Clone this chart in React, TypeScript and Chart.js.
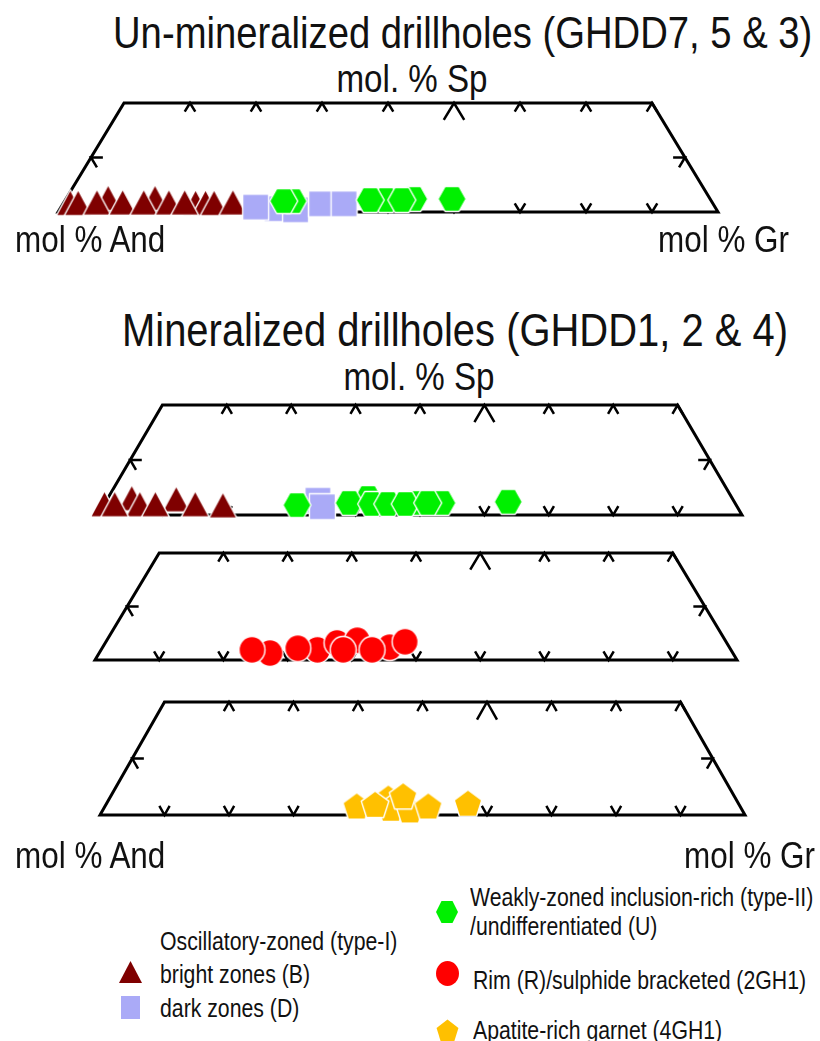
import React, { useEffect, useRef } from 'react';
import { Chart, registerables } from 'chart.js';

Chart.register(...registerables);

// ---------- Diagram constants (ternary And–Gr–Sp, truncated at Sp = 20 %) ----------
const SP_CUT = 20;
const TOP_TICKS = [20, 30, 40, 50, 60, 70, 80, 90];
const MAJOR_TICK = 60;
const BOTTOM_TICKS = [10, 20, 30, 40, 50, 60, 70, 80, 90];
const SIDE_TICK_SP = 10;

// ---------- Data: mol % Gr and mol % Sp of each analysis (drawing order) ----------
// Panel 1 – un-mineralized drillholes (GHDD7, 5 & 3)
const p1BrightGr = [1.0, 2.2, 6.3, 13.4, 20.0, 21.5, 22.8, 5.0, 8.9, 12.1, 15.9, 18.3, 25.6];
const p1BrightSp = [1.7, 1.7, 2.6, 2.6, 1.7, 1.7, 1.7, 1.8, 1.8, 1.8, 1.8, 1.8, 1.8];
const p1DarkGr = [32.9, 35.8, 39.2, 29.5, 42.6];
const p1DarkSp = [0.6, 0.4, 1.5, 0.9, 1.5];
const p1UGr = [34.6, 48.6, 52.7, 33.2, 46.2, 51.0, 58.5];
const p1USp = [2.0, 2.2, 2.4, 2.0, 2.2, 2.2, 2.4];

// Panel 2 – mineralized drillholes (GHDD1, 2 & 4), zoned garnet
const p2BrightGr = [0.0, 3.7, 5.5, 10.7, 1.6, 7.9, 14.1, 18.5];
const p2BrightSp = [2.0, 3.1, 2.0, 2.9, 2.0, 2.0, 2.0, 1.8];
const p2DarkGr = [32.8, 34.1];
const p2DarkSp = [2.7, 1.5];
const p2UGr = [30.0, 40.4, 48.1, 52.3, 37.9, 41.5, 44.0, 46.7, 50.1, 62.5];
const p2USp = [1.8, 3.1, 2.2, 2.2, 2.2, 2.0, 2.0, 2.0, 2.2, 2.4];

// Panel 3 – rims / sulphide bracketed (2GH1)
const p3RimGr = [26.6, 33.7, 36.1, 39.0, 44.7, 23.5, 30.5, 37.7, 42.2, 46.6];
const p3RimSp = [1.3, 1.9, 3.2, 3.7, 2.4, 1.9, 2.2, 1.9, 1.9, 3.4];

// Panel 4 – apatite-rich garnet (4GH1)
const p4ApGr = [43.2, 44.5, 47.6, 39.0, 41.7, 45.3, 50.1, 56.0];
const p4ApSp = [3.0, 1.2, 0.9, 1.6, 1.9, 3.4, 1.6, 2.1];

// ---------- Styles ----------
const FONT = "'Liberation Sans', Arial, Helvetica, sans-serif";
const SX = 0.85;
const C_BRIGHT = '#7f0000';
const C_DARK = '#aaaaf7';
const C_U = '#00f000';
const C_RIM = '#ff0000';
const C_AP = '#ffc000';

const PANELS = [
  { left: 58, right: 718, top: 103, bottom: 212 },
  { left: 98, right: 742, top: 405, bottom: 515 },
  { left: 95, right: 737, top: 553, bottom: 660 },
  { left: 100, right: 745, top: 702, bottom: 815 },
];
const PAD = 30;

type Shape = 'triangle' | 'square' | 'hexagon' | 'circle' | 'pentagon';

function shapePath(ctx: CanvasRenderingContext2D, shape: Shape, cx: number, cy: number, w: number, h: number) {
  const rx = w / 2;
  const ry = h / 2;
  ctx.beginPath();
  if (shape === 'triangle') {
    ctx.moveTo(cx, cy - ry);
    ctx.lineTo(cx + rx, cy + ry);
    ctx.lineTo(cx - rx, cy + ry);
  } else if (shape === 'square') {
    ctx.rect(cx - rx, cy - ry, w, h);
  } else if (shape === 'hexagon') {
    ctx.moveTo(cx - rx, cy);
    ctx.lineTo(cx - rx / 2, cy - ry);
    ctx.lineTo(cx + rx / 2, cy - ry);
    ctx.lineTo(cx + rx, cy);
    ctx.lineTo(cx + rx / 2, cy + ry);
    ctx.lineTo(cx - rx / 2, cy + ry);
  } else if (shape === 'circle') {
    ctx.ellipse(cx, cy, rx, ry, 0, 0, Math.PI * 2);
  } else {
    for (let k = 0; k < 5; k++) {
      const a = -Math.PI / 2 + (k * 2 * Math.PI) / 5;
      const px = cx + rx * Math.cos(a);
      const py = cy + ry * 1.05 * Math.sin(a) + ry * 0.1;
      if (k === 0) ctx.moveTo(px, py);
      else ctx.lineTo(px, py);
    }
  }
  ctx.closePath();
}

function makeMarker(shape: Shape, w: number, h: number, fill: string): HTMLCanvasElement {
  const c = document.createElement('canvas');
  c.width = Math.ceil(w + 5);
  c.height = Math.ceil(h + 5);
  const ctx = c.getContext('2d')!;
  shapePath(ctx, shape, c.width / 2, c.height / 2, w, h);
  ctx.fillStyle = fill;
  ctx.fill();
  ctx.lineWidth = 1.4;
  ctx.strokeStyle = '#ffffff';
  ctx.lineJoin = 'round';
  ctx.stroke();
  return c;
}

function lineDs(points: { x: number; y: number }[], width: number) {
  return {
    type: 'scatter' as const,
    data: points,
    showLine: true,
    borderColor: '#000',
    backgroundColor: '#000',
    borderWidth: width,
    pointRadius: 0,
    pointHoverRadius: 0,
    borderJoinStyle: 'miter' as const,
    borderCapStyle: 'butt' as const,
    clip: false as const,
    order: 100,
  };
}

function frameDatasets() {
  const ds: any[] = [];
  const topL = SP_CUT / 2;
  const topR = 100 - SP_CUT / 2;
  ds.push(
    lineDs(
      [
        { x: topL, y: SP_CUT },
        { x: 0, y: 0 },
        { x: 100, y: 0 },
        { x: topR, y: SP_CUT },
        { x: topL, y: SP_CUT },
        { x: 0, y: 0 },
      ],
      3
    )
  );
  TOP_TICKS.forEach((t) => {
    const h = t === MAJOR_TICK ? 3.1 : 1.6;
    ds.push(
      lineDs(
        [
          { x: t - h / 2, y: SP_CUT - h },
          { x: t, y: SP_CUT },
          { x: t + h / 2, y: SP_CUT - h },
        ],
        2.5
      )
    );
  });
  BOTTOM_TICKS.forEach((t) => {
    const h = 1.6;
    ds.push(
      lineDs(
        [
          { x: t - h / 2, y: h },
          { x: t, y: 0 },
          { x: t + h / 2, y: h },
        ],
        2.5
      )
    );
  });
  const s = SIDE_TICK_SP;
  const h = 1.8;
  ds.push(
    lineDs(
      [
        { x: s / 2 + h, y: s },
        { x: s / 2, y: s },
        { x: s / 2 + h / 2, y: s - h },
      ],
      2.5
    )
  );
  ds.push(
    lineDs(
      [
        { x: 100 - s / 2 - h, y: s },
        { x: 100 - s / 2, y: s },
        { x: 100 - s / 2 - h / 2, y: s - h },
      ],
      2.5
    )
  );
  return ds;
}

function markerDs(gr: number[], sp: number[], img: HTMLCanvasElement, order: number) {
  return {
    type: 'scatter' as const,
    data: gr.map((g, i) => ({ x: g + sp[i] / 2, y: sp[i] })),
    pointStyle: img,
    pointRadius: 12,
    pointHoverRadius: 12,
    showLine: false,
    clip: false as const,
    order,
  };
}

type SeriesDef = { gr: number[]; sp: number[]; shape: Shape; w: number; h: number; color: string };

function Panel({ geom, series }: { geom: (typeof PANELS)[number]; series: SeriesDef[] }) {
  const ref = useRef<HTMLCanvasElement | null>(null);
  const width = geom.right - geom.left + 2 * PAD;
  const height = geom.bottom - geom.top + 2 * PAD;
  useEffect(() => {
    if (!ref.current) return;
    const datasets: any[] = frameDatasets();
    // first series drawn at the bottom, last series on top
    series.forEach((s, i) => {
      datasets.push(markerDs(s.gr, s.sp, makeMarker(s.shape, s.w, s.h, s.color), 50 - i));
    });
    const chart = new Chart(ref.current, {
      type: 'scatter',
      data: { datasets },
      options: {
        animation: false,
        responsive: false,
        maintainAspectRatio: false,
        events: [],
        layout: { padding: PAD },
        scales: {
          x: { type: 'linear', min: 0, max: 100, display: false },
          y: { type: 'linear', min: 0, max: SP_CUT, display: false },
        },
        plugins: { legend: { display: false }, tooltip: { enabled: false }, title: { display: false } },
      },
    });
    return () => chart.destroy();
  }, []);
  return (
    <canvas
      ref={ref}
      width={width}
      height={height}
      style={{ position: 'absolute', left: geom.left - PAD, top: geom.top - PAD, width, height }}
    />
  );
}

function Label({ text, x, baseline, size, center }: { text: string; x: number; baseline: number; size: number; center?: boolean }) {
  return (
    <div
      style={{
        position: 'absolute',
        left: x,
        top: baseline - 0.8465 * size,
        fontFamily: FONT,
        fontSize: size,
        lineHeight: 1,
        whiteSpace: 'nowrap',
        color: '#111',
        transformOrigin: '0 0',
        transform: center ? `scaleX(${SX}) translateX(-50%)` : `scaleX(${SX})`,
      }}
    >
      {text}
    </div>
  );
}

function LegendMarker({ shape, x, y, w, h, color }: { shape: Shape; x: number; y: number; w: number; h: number; color: string }) {
  const ref = useRef<HTMLCanvasElement | null>(null);
  useEffect(() => {
    const c = ref.current;
    if (!c) return;
    const ctx = c.getContext('2d')!;
    ctx.clearRect(0, 0, c.width, c.height);
    shapePath(ctx, shape, c.width / 2, c.height / 2, w, h);
    ctx.fillStyle = color;
    ctx.fill();
  }, []);
  const cw = Math.ceil(w + 4);
  const ch = Math.ceil(h + 4);
  return <canvas ref={ref} width={cw} height={ch} style={{ position: 'absolute', left: x - cw / 2, top: y - ch / 2 }} />;
}

export default function App() {
  const p1: SeriesDef[] = [
    { gr: p1BrightGr, sp: p1BrightSp, shape: 'triangle', w: 28, h: 26, color: C_BRIGHT },
    { gr: p1DarkGr, sp: p1DarkSp, shape: 'square', w: 26, h: 26, color: C_DARK },
    { gr: p1UGr, sp: p1USp, shape: 'hexagon', w: 28, h: 25, color: C_U },
  ];
  const p2: SeriesDef[] = [
    { gr: p2BrightGr, sp: p2BrightSp, shape: 'triangle', w: 28, h: 26, color: C_BRIGHT },
    { gr: p2DarkGr, sp: p2DarkSp, shape: 'square', w: 26, h: 26, color: C_DARK },
    { gr: p2UGr, sp: p2USp, shape: 'hexagon', w: 28, h: 25, color: C_U },
  ];
  const p3: SeriesDef[] = [{ gr: p3RimGr, sp: p3RimSp, shape: 'circle', w: 26, h: 27, color: C_RIM }];
  const p4: SeriesDef[] = [{ gr: p4ApGr, sp: p4ApSp, shape: 'pentagon', w: 29, h: 28, color: C_AP }];

  return (
    <div style={{ position: 'absolute', left: 0, top: 0, width: 820, height: 1041, background: '#fff', overflow: 'hidden' }}>
      <Label text="Un-mineralized drillholes (GHDD7, 5 & 3)" x={113} baseline={48} size={45} />
      <Label text="mol. % Sp" x={412} baseline={92} size={39} center />
      <Panel geom={PANELS[0]} series={p1} />
      <Label text="mol % And" x={15} baseline={252} size={37} />
      <Label text="mol % Gr" x={658} baseline={252} size={37} />

      <Label text="Mineralized drillholes (GHDD1, 2 & 4)" x={122} baseline={346} size={47} />
      <Label text="mol. % Sp" x={419} baseline={390} size={39} center />
      <Panel geom={PANELS[1]} series={p2} />
      <Panel geom={PANELS[2]} series={p3} />
      <Panel geom={PANELS[3]} series={p4} />
      <Label text="mol % And" x={15} baseline={868} size={37} />
      <Label text="mol % Gr" x={684} baseline={868} size={37} />

      <Label text="Oscillatory-zoned (type-I)" x={160} baseline={950} size={25} />
      <LegendMarker shape="triangle" x={130} y={972} w={23} h={22} color={C_BRIGHT} />
      <Label text="bright zones (B)" x={160} baseline={983} size={25} />
      <LegendMarker shape="square" x={130} y={1007} w={19} h={23} color={C_DARK} />
      <Label text="dark zones (D)" x={160} baseline={1017} size={25} />

      <LegendMarker shape="hexagon" x={447} y={912} w={22} h={22} color={C_U} />
      <Label text="Weakly-zoned inclusion-rich (type-II)" x={470} baseline={906} size={25} />
      <Label text="/undifferentiated (U)" x={470} baseline={935} size={25} />
      <LegendMarker shape="circle" x={447} y={973} w={23} h={25} color={C_RIM} />
      <Label text="Rim (R)/sulphide bracketed (2GH1)" x={473} baseline={989} size={25} />
      <LegendMarker shape="pentagon" x={447} y={1030} w={23} h={23} color={C_AP} />
      <Label text="Apatite-rich garnet (4GH1)" x={473} baseline={1039} size={25} />
    </div>
  );
}
